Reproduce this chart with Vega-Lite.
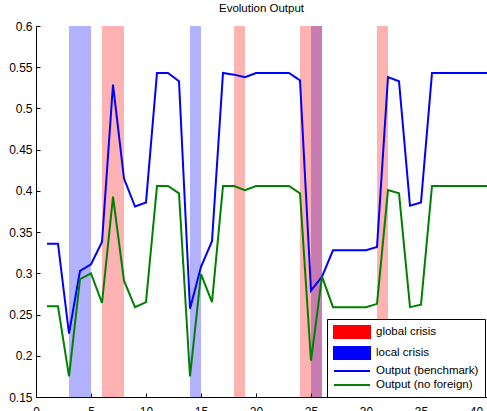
{
  "$schema": "https://vega.github.io/schema/vega-lite/v6.json",
  "width": 451,
  "height": 371,
  "autosize": {"type": "none"},
  "padding": {"left": 36, "top": 26, "right": 0, "bottom": 14},
  "background": "white",
  "title": {"text": "Evolution Output", "fontSize": 11.5, "fontWeight": "normal", "font": "Liberation Sans", "color": "black", "offset": 6},
  "config": {
    "view": {"stroke": null},
    "axis": {"domainColor": "black", "tickColor": "black", "labelColor": "black", "labelFont": "Liberation Sans", "labelFontSize": 12, "grid": false, "title": null, "tickSize": -4, "domainWidth": 1, "tickWidth": 1}
  },
  "datasets": {
    "bands": [
      {"series": "local crisis", "x": 3, "x2": 5},
      {"series": "local crisis", "x": 14, "x2": 15},
      {"series": "local crisis", "x": 25, "x2": 26},
      {"series": "global crisis", "x": 6, "x2": 8},
      {"series": "global crisis", "x": 18, "x2": 19},
      {"series": "global crisis", "x": 24, "x2": 26},
      {"series": "global crisis", "x": 31, "x2": 32}
    ],
    "lines": [
      {"series": "Output (benchmark)", "x": 1, "y": 0.336},
      {"series": "Output (benchmark)", "x": 2, "y": 0.336},
      {"series": "Output (benchmark)", "x": 3, "y": 0.227},
      {"series": "Output (benchmark)", "x": 4, "y": 0.303},
      {"series": "Output (benchmark)", "x": 5, "y": 0.311},
      {"series": "Output (benchmark)", "x": 6, "y": 0.338},
      {"series": "Output (benchmark)", "x": 7, "y": 0.529},
      {"series": "Output (benchmark)", "x": 8, "y": 0.415},
      {"series": "Output (benchmark)", "x": 9, "y": 0.381},
      {"series": "Output (benchmark)", "x": 10, "y": 0.386},
      {"series": "Output (benchmark)", "x": 11, "y": 0.543},
      {"series": "Output (benchmark)", "x": 12, "y": 0.543},
      {"series": "Output (benchmark)", "x": 13, "y": 0.533},
      {"series": "Output (benchmark)", "x": 14, "y": 0.257},
      {"series": "Output (benchmark)", "x": 15, "y": 0.308},
      {"series": "Output (benchmark)", "x": 16, "y": 0.339},
      {"series": "Output (benchmark)", "x": 17, "y": 0.543},
      {"series": "Output (benchmark)", "x": 18, "y": 0.541},
      {"series": "Output (benchmark)", "x": 19, "y": 0.538},
      {"series": "Output (benchmark)", "x": 20, "y": 0.543},
      {"series": "Output (benchmark)", "x": 21, "y": 0.543},
      {"series": "Output (benchmark)", "x": 22, "y": 0.543},
      {"series": "Output (benchmark)", "x": 23, "y": 0.543},
      {"series": "Output (benchmark)", "x": 24, "y": 0.534},
      {"series": "Output (benchmark)", "x": 25, "y": 0.279},
      {"series": "Output (benchmark)", "x": 26, "y": 0.296},
      {"series": "Output (benchmark)", "x": 27, "y": 0.328},
      {"series": "Output (benchmark)", "x": 28, "y": 0.328},
      {"series": "Output (benchmark)", "x": 29, "y": 0.328},
      {"series": "Output (benchmark)", "x": 30, "y": 0.328},
      {"series": "Output (benchmark)", "x": 31, "y": 0.332},
      {"series": "Output (benchmark)", "x": 32, "y": 0.538},
      {"series": "Output (benchmark)", "x": 33, "y": 0.533},
      {"series": "Output (benchmark)", "x": 34, "y": 0.382},
      {"series": "Output (benchmark)", "x": 35, "y": 0.386},
      {"series": "Output (benchmark)", "x": 36, "y": 0.543},
      {"series": "Output (benchmark)", "x": 37, "y": 0.543},
      {"series": "Output (benchmark)", "x": 38, "y": 0.543},
      {"series": "Output (benchmark)", "x": 39, "y": 0.543},
      {"series": "Output (benchmark)", "x": 40, "y": 0.543},
      {"series": "Output (benchmark)", "x": 41, "y": 0.543},
      {"series": "Output (no foreign)", "x": 1, "y": 0.26},
      {"series": "Output (no foreign)", "x": 2, "y": 0.26},
      {"series": "Output (no foreign)", "x": 3, "y": 0.175},
      {"series": "Output (no foreign)", "x": 4, "y": 0.293},
      {"series": "Output (no foreign)", "x": 5, "y": 0.3},
      {"series": "Output (no foreign)", "x": 6, "y": 0.264},
      {"series": "Output (no foreign)", "x": 7, "y": 0.393},
      {"series": "Output (no foreign)", "x": 8, "y": 0.291},
      {"series": "Output (no foreign)", "x": 9, "y": 0.259},
      {"series": "Output (no foreign)", "x": 10, "y": 0.265},
      {"series": "Output (no foreign)", "x": 11, "y": 0.406},
      {"series": "Output (no foreign)", "x": 12, "y": 0.406},
      {"series": "Output (no foreign)", "x": 13, "y": 0.397},
      {"series": "Output (no foreign)", "x": 14, "y": 0.175},
      {"series": "Output (no foreign)", "x": 15, "y": 0.299},
      {"series": "Output (no foreign)", "x": 16, "y": 0.265},
      {"series": "Output (no foreign)", "x": 17, "y": 0.406},
      {"series": "Output (no foreign)", "x": 18, "y": 0.406},
      {"series": "Output (no foreign)", "x": 19, "y": 0.401},
      {"series": "Output (no foreign)", "x": 20, "y": 0.406},
      {"series": "Output (no foreign)", "x": 21, "y": 0.406},
      {"series": "Output (no foreign)", "x": 22, "y": 0.406},
      {"series": "Output (no foreign)", "x": 23, "y": 0.406},
      {"series": "Output (no foreign)", "x": 24, "y": 0.397},
      {"series": "Output (no foreign)", "x": 25, "y": 0.194},
      {"series": "Output (no foreign)", "x": 26, "y": 0.296},
      {"series": "Output (no foreign)", "x": 27, "y": 0.259},
      {"series": "Output (no foreign)", "x": 28, "y": 0.259},
      {"series": "Output (no foreign)", "x": 29, "y": 0.259},
      {"series": "Output (no foreign)", "x": 30, "y": 0.259},
      {"series": "Output (no foreign)", "x": 31, "y": 0.263},
      {"series": "Output (no foreign)", "x": 32, "y": 0.401},
      {"series": "Output (no foreign)", "x": 33, "y": 0.397},
      {"series": "Output (no foreign)", "x": 34, "y": 0.259},
      {"series": "Output (no foreign)", "x": 35, "y": 0.262},
      {"series": "Output (no foreign)", "x": 36, "y": 0.406},
      {"series": "Output (no foreign)", "x": 37, "y": 0.406},
      {"series": "Output (no foreign)", "x": 38, "y": 0.406},
      {"series": "Output (no foreign)", "x": 39, "y": 0.406},
      {"series": "Output (no foreign)", "x": 40, "y": 0.406},
      {"series": "Output (no foreign)", "x": 41, "y": 0.406}
    ]
  },
  "encoding": {
    "x": {"field": "x", "type": "quantitative", "scale": {"domain": [0, 41], "nice": false, "zero": false},
      "axis": {"values": [0, 5, 10, 15, 20, 25, 30, 35, 40], "format": "d", "labelPadding": 13, "labelFlush": false}},
    "color": {"field": "series", "type": "nominal",
      "scale": {"domain": ["global crisis", "local crisis", "Output (benchmark)", "Output (no foreign)"], "range": ["#ff0000", "#0000ff", "#0000ff", "#008000"]},
      "legend": {
        "orient": "none", "legendX": 291, "legendY": 293, "title": null,
        "padding": 6, "strokeColor": "black", "fillColor": "white",
        "labelFont": "Liberation Sans", "labelFontSize": 11.5, "labelColor": "black",
        "symbolSize": 144, "rowPadding": 1, "labelOffset": 29, "symbolOffset": 0, "symbolOpacity": 1, "symbolStrokeWidth": 2,
        "encode": {
          "symbols": {"update": {
            "shape": {"signal": "(datum.value == 'global crisis' || datum.value == 'local crisis') ? 'M-1,-1H5V1H-1Z' : 'M-1,0H5'"},
            "fill": {"signal": "datum.value == 'global crisis' ? '#ff0000' : (datum.value == 'local crisis' ? '#0000ff' : 'transparent')"},
            "stroke": {"signal": "datum.value == 'Output (benchmark)' ? '#0000ff' : (datum.value == 'Output (no foreign)' ? '#008000' : 'transparent')"},
            "strokeWidth": {"value": 2},
            "opacity": {"value": 1},
            "fillOpacity": {"value": 1},
            "strokeOpacity": {"value": 1}
          }}
        }
      }}
  },
  "layer": [
    {
      "data": {"name": "bands"},
      "mark": {"type": "rect", "opacity": 0.3},
      "encoding": {
        "x": {"field": "x", "type": "quantitative"},
        "x2": {"field": "x2"},
        "y": {"datum": 0.6, "type": "quantitative"},
        "y2": {"datum": 0.15}
      }
    },
    {
      "data": {"name": "lines"},
      "mark": {"type": "line", "strokeWidth": 2},
      "encoding": {
        "y": {"field": "y", "type": "quantitative", "scale": {"domain": [0.15, 0.6], "nice": false, "zero": false},
          "axis": {"values": [0.15, 0.2, 0.25, 0.3, 0.35, 0.4, 0.45, 0.5, 0.55, 0.6], "format": ".2~f", "labelPadding": 8}}
      }
    }
  ]
}
